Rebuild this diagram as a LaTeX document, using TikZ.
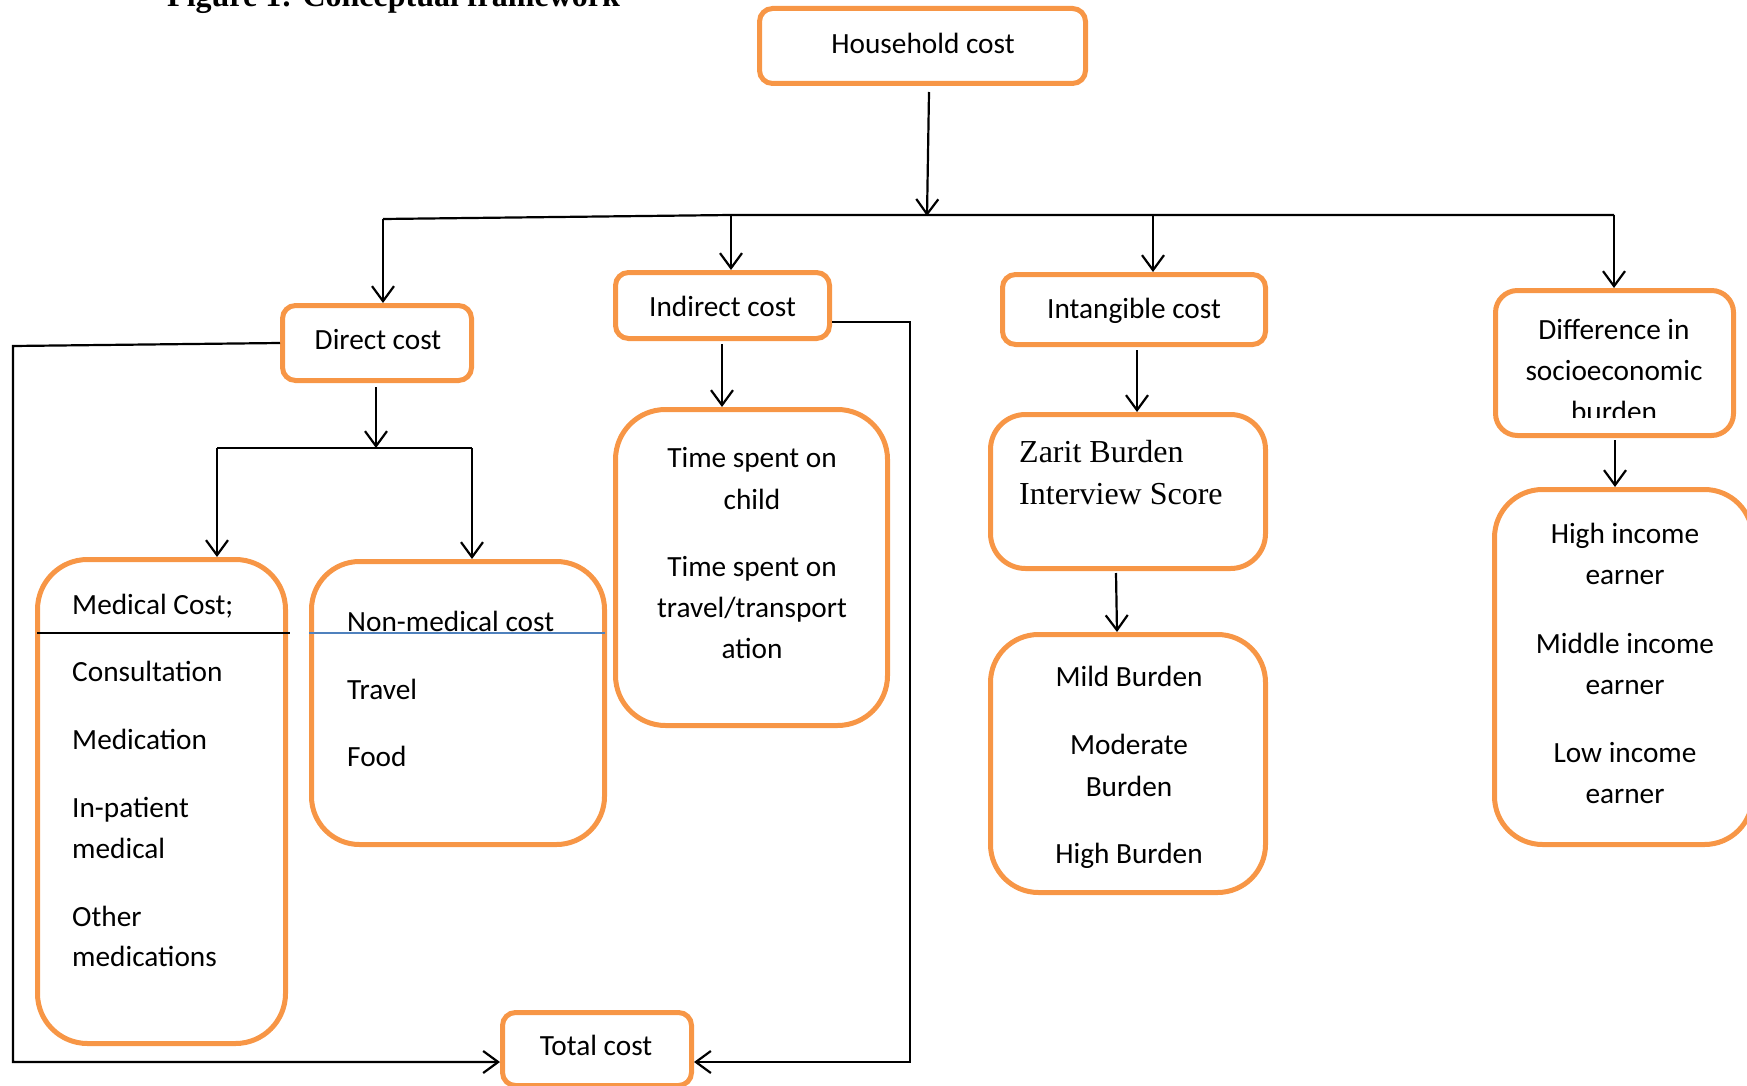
\documentclass[tikz,border=0pt]{standalone}
\usepackage{fontspec}
\setmainfont{Carlito}
\newfontfamily\tnr{Liberation Serif}
\usetikzlibrary{arrows.meta}
\definecolor{boxor}{HTML}{F79646}
\definecolor{divblue}{HTML}{4F81BD}
\begin{document}
\begin{tikzpicture}[x=1pt,y=-1pt,
  bx/.style={draw=boxor,line width=5pt,rectangle,inner sep=0pt},
  ln/.style={draw=black,line width=2.2pt},
  arr/.style={ln,-{Straight Barb[length=15pt,width=22pt]}},
  tx/.style={inner sep=0pt,anchor=base,yshift=-1.5pt,font=\fontsize{29.3}{41}\selectfont},
  txl/.style={tx,anchor=base west},
  tt/.style={inner sep=0pt,anchor=base west,font=\tnr\fontsize{32}{40}\selectfont}]
\useasboundingbox (0,0) rectangle (1747,1086);
\clip (0,0) rectangle (1747,1086);

% title (cut at top)
\node[inner sep=0pt,anchor=base west,font=\tnr\bfseries\fontsize{32}{38}\selectfont] (title) at (167,6.5) {Figure 1: Conceptual framework};

% boxes
\node[bx,rounded corners=13pt,minimum width=326pt,minimum height=75pt] (house) at (922.5,46) {};
\node[bx,rounded corners=13pt,minimum width=189pt,minimum height=75pt] (direct) at (377,343) {};
\node[bx,rounded corners=13pt,minimum width=214pt,minimum height=66pt] (indirect) at (722.5,305.5) {};
\node[bx,rounded corners=13pt,minimum width=263pt,minimum height=70pt] (intang) at (1134,309.5) {};
\node[bx,rounded corners=22pt,minimum width=238pt,minimum height=145pt] (diff) at (1614.5,363) {};
\node[bx,rounded corners=50pt,minimum width=248pt,minimum height=484pt] (medical) at (161.5,801.5) {};
\node[bx,rounded corners=48pt,minimum width=293pt,minimum height=283pt] (nonmed) at (458,703) {};
\node[bx,rounded corners=50pt,minimum width=272pt,minimum height=316pt] (time) at (751.5,567.5) {};
\node[bx,rounded corners=35pt,minimum width=275pt,minimum height=154pt] (zarit) at (1128,491.5) {};
\node[bx,rounded corners=48pt,minimum width=275pt,minimum height=258pt] (burden) at (1128,763.5) {};
\node[bx,rounded corners=48pt,minimum width=258pt,minimum height=355pt] (income) at (1623.5,667) {};
\node[bx,rounded corners=13pt,minimum width=189pt,minimum height=73pt] (total) at (597,1049) {};

% dividers
\draw[line width=2pt,black] (37,633) -- (290,633);
\draw[line width=1.6pt,divblue] (309,633) -- (605,633);

% texts
\node[tx] (thouse) at (923,52) {Household cost};
\node[tx] (tdirect) at (378,348) {Direct cost};
\node[tx] (tindirect) at (722.5,315) {Indirect cost};
\node[tx] (tintang) at (1134,317) {Intangible cost};
\begin{scope}
\clip (1496,291) rectangle (1733,417.5);
\node[tx] (tdiff1) at (1614,338) {Difference in};
\node[tx] (tdiff2) at (1614,379) {socioeconomic};
\node[tx] (tdiff3) at (1614,420) {burden};
\end{scope}
\node[txl] (tm1) at (72,613) {Medical Cost;};
\node[txl] (tm2) at (72,680) {Consultation};
\node[txl] (tm3) at (72,748) {Medication};
\node[txl] (tm4) at (72,816) {In-patient};
\node[txl] (tm5) at (72,857) {medical};
\node[txl] (tm6) at (72,925) {Other};
\node[txl] (tm7) at (72,965) {medications};
\node[txl] (tn1) at (347,630) {Non-medical cost};
\node[txl] (tn2) at (347,698) {Travel};
\node[txl] (tn3) at (347,765) {Food};
\node[tx] (tt1) at (752,466) {Time spent on};
\node[tx] (tt2) at (752,508) {child};
\node[tx] (tt3) at (752,575) {Time spent on};
\node[tx] (tt4) at (752,616) {travel/transport};
\node[tx] (tt5) at (752,657) {ation};
\node[tt] (tz1) at (1019,462) {Zarit Burden};
\node[tt] (tz2) at (1019,504) {Interview Score};
\node[tx] (tb1) at (1129,685) {Mild Burden};
\node[tx] (tb2) at (1129,753) {Moderate};
\node[tx] (tb3) at (1129,795) {Burden};
\node[tx] (tb4) at (1129,862) {High Burden};
\node[tx] (ti1) at (1625,542) {High income};
\node[tx] (ti2) at (1625,583) {earner};
\node[tx] (ti3) at (1625,652) {Middle income};
\node[tx] (ti4) at (1625,693) {earner};
\node[tx] (ti5) at (1625,761) {Low income};
\node[tx] (ti6) at (1625,802) {earner};
\node[tx] (ttotal) at (596,1054) {Total cost};

% junction coordinates
\coordinate (hj) at (927,216);
\coordinate (dj) at (383,219);
\coordinate (ij) at (731,215);
\coordinate (kj) at (1153,215);
\coordinate (rj) at (1614,215);
\coordinate (dd) at (376,448);
\coordinate (ml) at (217,448);
\coordinate (nr) at (472,448);
\coordinate (dl) at (13,346);
\coordinate (bl) at (13,1062);
\coordinate (ir) at (910,322);
\coordinate (br) at (910,1062);

% connectors
\draw[arr] ([xshift=6.5pt,yshift=-6pt]house.south) -- (hj);
\draw[ln] (dj) -- (ij) -- (kj) -- (rj);
\draw[arr] (dj) -- (direct.north -| dj);
\draw[arr] (ij) -- (indirect.north -| ij);
\draw[arr] (kj) -- (intang.north -| kj);
\draw[arr] (rj) -- (diff.north -| rj);
\draw[arr] ([xshift=-1pt,yshift=-4pt]direct.south) -- (dd);
\draw[ln] (ml) -- (nr);
\draw[arr] (ml) -- (medical.north -| ml);
\draw[arr] (nr) -- (nonmed.north -| nr);
\draw[arr] ([xshift=-0.5pt,yshift=-3pt]indirect.south) -- ([xshift=-0.5pt]indirect.south |- time.north);
\draw[arr] ([xshift=3pt,yshift=-3pt]intang.south) -- ([xshift=3pt]intang.south |- zarit.north);
\draw[arr] ([xshift=-12pt,yshift=-2pt]zarit.south) -- ([xshift=-11pt]burden.north);
\draw[arr] ([xshift=0.5pt,yshift=-2pt]diff.south) -- ([xshift=0.5pt]diff.south |- income.north);
\draw[arr] (direct.west) -- (dl) -- (bl) -- (bl -| total.west);
\draw[arr] ([yshift=-16.5pt]indirect.east) -- (ir) -- (br) -- (br -| total.east);
\end{tikzpicture}
\end{document}
